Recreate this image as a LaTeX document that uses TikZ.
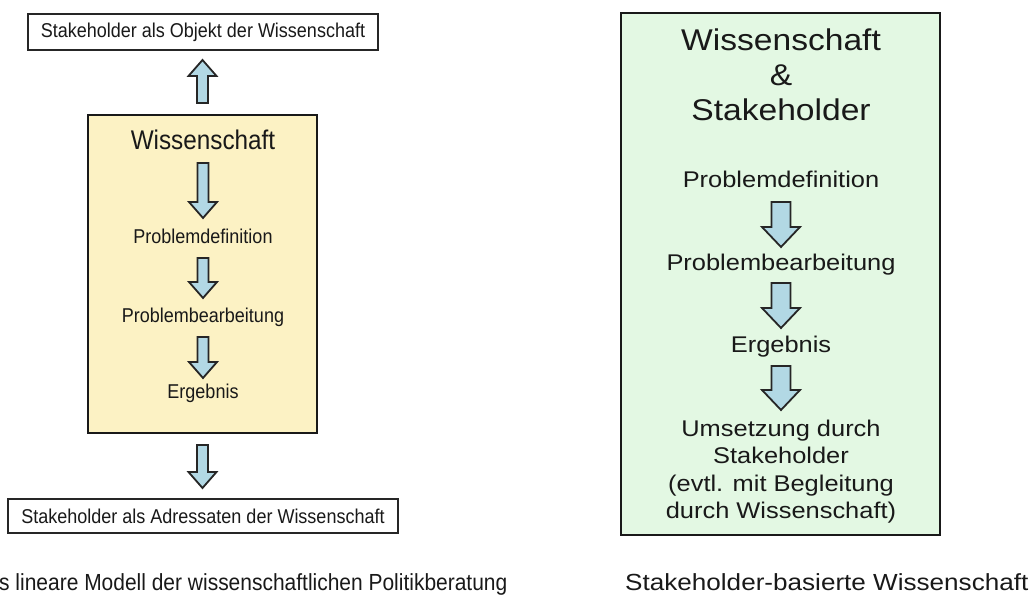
\documentclass[tikz,border=0pt]{standalone}
\usepackage{fontspec}
\usepackage{xcolor}
\usepackage{tikz}
\usetikzlibrary{calc}
\setmainfont{Liberation Sans}
\newfontfamily\narrowsans[FakeStretch=0.9]{Liberation Sans}
\newfontfamily\widesans[FakeStretch=1.12]{Liberation Sans}

\definecolor{wissyellow}{RGB}{252,242,196}
\definecolor{stakegreen}{RGB}{227,248,227}
\definecolor{arrowblue}{RGB}{178,216,228}
\definecolor{textgray}{RGB}{25,25,25}

\tikzset{
  blockarrow/.style n args={3}{fill=arrowblue, draw=black!85, line width=1.8pt, line join=miter,
    to path={let \p1=(\tikztostart), \p2=(\tikztotarget), \n1={sign(\y2-\y1)} in
      (\x1-#1,\y1) -- (\x1+#1,\y1) -- (\x1+#1,{\y2-(\n1)*#3}) -- (\x1+#2,{\y2-(\n1)*#3})
      -- (\x1,\y2) -- (\x1-#2,{\y2-(\n1)*#3}) -- (\x1-#1,{\y2-(\n1)*#3}) -- cycle}},
  smallarrow/.style={blockarrow={5.5pt}{14pt}{16pt}},
  bigarrow/.style={blockarrow={9.5pt}{19pt}{20pt}},
}

\begin{document}
\begin{tikzpicture}[x=1pt, y=1pt,
    plainbox/.style={draw=black!85, line width=1.9pt, fill=white, inner sep=0, outer sep=0,
      text=textgray, font=\narrowsans\fontsize{20}{24}\selectfont},
    frame/.style={draw=black!90, line width=2.8pt, inner sep=0, outer sep=0},
    lefttext/.style={inner sep=0, anchor=base, text=textgray, font=\narrowsans\fontsize{20}{24}\selectfont},
    righttext/.style={inner sep=0, anchor=base, text=textgray, align=center,
      font=\widesans\fontsize{22.7}{27.3}\selectfont},
    caption/.style={inner sep=0, anchor=base west, text=textgray}]
  \useasboundingbox (0,0) rectangle (1031,596);

  % lineares Modell
  \node[plainbox, minimum width=350pt, minimum height=36pt] (objekt) at (203,564) {Stakeholder als Objekt der Wissenschaft};
  \node[frame, fill=wissyellow, minimum width=229pt, minimum height=318pt] (wbox) at (202.5,322) {};
  \node[lefttext, font=\narrowsans\fontsize{27}{32}\selectfont] (lwiss) at (203,446) {Wissenschaft};
  \node[lefttext] (ldef) at (203,352) {Problemdefinition};
  \node[lefttext] (lbearb) at (203,273) {Problembearbeitung};
  \node[lefttext] (lerg) at (203,197) {Ergebnis};
  \node[plainbox, minimum width=390pt, minimum height=34pt] (adress) at (203,80) {Stakeholder als Adressaten der Wissenschaft};
  \node[caption, font=\narrowsans\fontsize{23.3}{28}\selectfont] (lcap) at (-1,5) {s lineare Modell der wissenschaftlichen Politikberatung};

  \draw[smallarrow] ([yshift=12pt]wbox.north) to ([yshift=-10pt]objekt.south);
  \draw[smallarrow] ([yshift=-13pt]lwiss.base) to ([yshift=26pt]ldef.base);
  \draw[smallarrow] ([yshift=-14pt]ldef.base) to ([yshift=25pt]lbearb.base);
  \draw[smallarrow] ([yshift=-14pt]lbearb.base) to ([yshift=21pt]lerg.base);
  \draw[smallarrow] ([yshift=-12pt]wbox.south) to ([yshift=11pt]adress.north);

  % Stakeholder-basiert
  \node[frame, fill=stakegreen, minimum width=319pt, minimum height=522pt] (gbox) at (780.5,322) {};
  \node[righttext, anchor=north, font=\widesans\fontsize{30}{35}\selectfont] (rtitle) at (781,567) {Wissenschaft\\\&\\Stakeholder};
  \node[righttext] (rdef) at (781,408) {Problemdefinition};
  \node[righttext] (rbearb) at (781,325) {Problembearbeitung};
  \node[righttext] (rerg) at (781,243) {Ergebnis};
  \node[righttext, anchor=north] (rums) at (781,176) {Umsetzung durch\\Stakeholder\\(evtl. mit Begleitung\\durch Wissenschaft)};
  \node[caption, font=\widesans\fontsize{23.3}{28}\selectfont] (rcap) at (625,5) {Stakeholder-basierte Wissenschaft};

  \draw[bigarrow] ([yshift=-14pt]rdef.base) to ([yshift=24pt]rbearb.base);
  \draw[bigarrow] ([yshift=-12pt]rbearb.base) to ([yshift=25pt]rerg.base);
  \draw[bigarrow] ([yshift=-13pt]rerg.base) to ([yshift=10pt]rums.north);
\end{tikzpicture}
\end{document}
